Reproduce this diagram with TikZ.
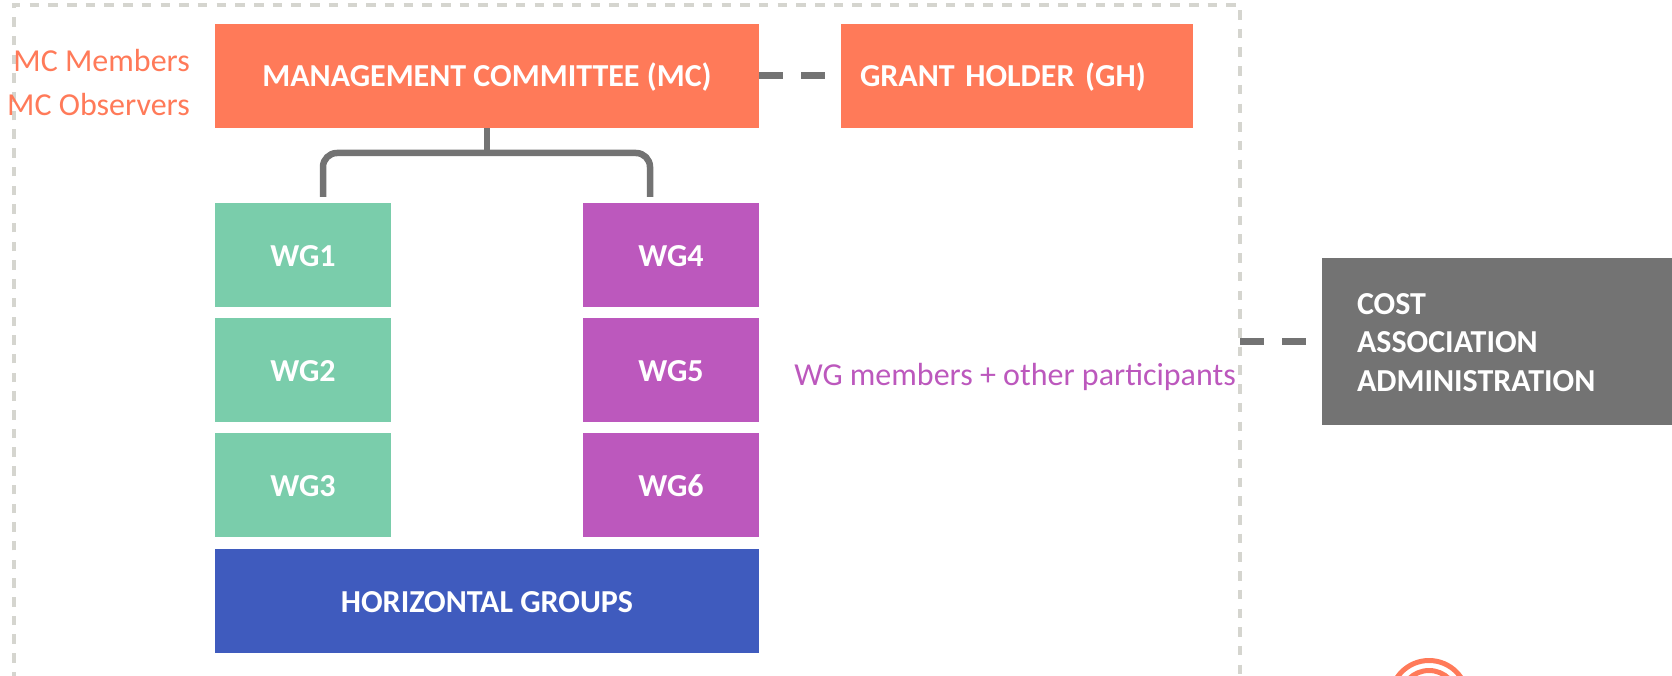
\documentclass[tikz,border=0pt]{standalone}
\usepackage{fontspec}
\setmainfont{Carlito}
\definecolor{coral}{HTML}{FF7A59}
\definecolor{wggreen}{HTML}{7ACDAB}
\definecolor{wgpurple}{HTML}{BC58BD}
\definecolor{hgblue}{HTML}{3F5BBE}
\definecolor{costgray}{HTML}{737373}
\definecolor{framegray}{HTML}{D5D5CF}
\tikzset{
  box/.style={inner sep=0pt, text=white, font=\fontsize{32}{38.5}\selectfont\bfseries, align=center, minimum height=104pt},
  oneline/.style={box, text height=28pt, text depth=6pt},
  wgbox/.style={oneline, minimum width=176pt},
  widebox/.style={oneline, minimum width=544pt},
  note/.style={inner sep=0pt, font=\fontsize{32}{38.5}\selectfont},
  link/.style={line width=6.5pt, draw=costgray},
  dashlink/.style={link, line width=7pt, dash pattern=on 24pt off 18pt},
}
\begin{document}
\begin{tikzpicture}[x=1pt,y=-1pt]

    % --- Page ---
    \clip (0,0) rectangle (1672,676);

    % --- Dashed Frame ---
    \draw[framegray, line width=3.2pt, dash pattern=on 9.5pt off 9.2pt] (14,700) -- (14,5) -- (1240,5) -- (1240,700);

    % --- Boxes ---
    \node[widebox, fill=coral] (mc) at (487,76) {MANAGEMENT COMMITTEE (MC)};
    \node[oneline, fill=coral, minimum width=352pt, text width=314pt, align=left] (gh) at (1017,76) {GRANT HOLDER (GH)};

    \node[wgbox, fill=wggreen] (wg1) at (303,255) {WG1};
    \node[wgbox, fill=wggreen] (wg2) at (303,370) {WG2};
    \node[wgbox, fill=wggreen] (wg3) at (303,485) {WG3};
    \node[wgbox, fill=wgpurple] (wg4) at (671,255) {WG4};
    \node[wgbox, fill=wgpurple] (wg5) at (671,370) {WG5};
    \node[wgbox, fill=wgpurple] (wg6) at (671,485) {WG6};

    \node[widebox, fill=hgblue] (hg) at (487,601) {HORIZONTAL GROUPS};

    \node[box, fill=costgray, minimum width=350pt, minimum height=167pt, text width=280pt, align=left] (cost) at (1497,341.5) {\rule{0pt}{22.5pt}COST\\ASSOCIATION\\ADMINISTRATION};

    % --- Labels ---
    \node[note, text=coral, anchor=east] (members) at (190,61) {MC Members};
    \node[note, text=coral, anchor=east] (observers) at (190,105) {MC Observers};
    \node[note, text=wgpurple, anchor=east] (participants) at (1236,377) {WG members + other participants};

    % --- Connectors ---
    \coordinate (legL) at (323,197);
    \coordinate (legR) at (650,197);
    \coordinate (bar) at (487,153);
    \coordinate (frameE) at (1240,341);

    \draw[link] (mc.south) -- (bar);
    \draw[link, rounded corners=14pt] (legL) |- (bar) -| (legR);
    \draw[dashlink, shorten >=16pt] (mc.east) -- (gh.west);
    \draw[dashlink, shorten >=16pt] (frameE) -- (frameE -| cost.west);

    % --- Rings ---
    \draw[coral, line width=5pt] (1429,699) circle (38.5);
    \draw[coral, line width=5pt] (1429,699) circle (28.5);

\end{tikzpicture}
\end{document}
